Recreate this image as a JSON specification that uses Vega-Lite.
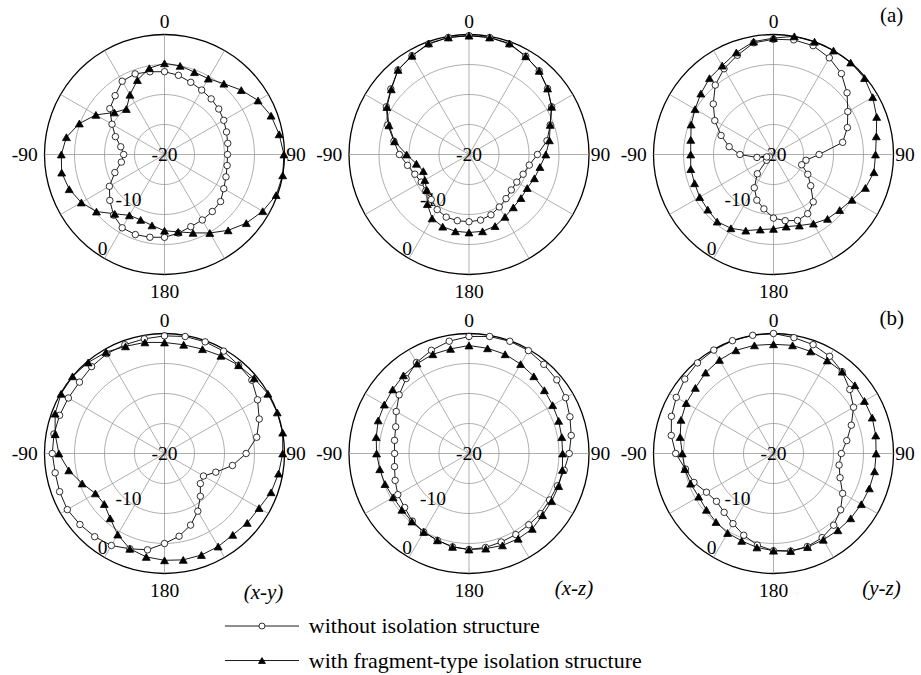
{
"$schema": "https://vega.github.io/schema/vega-lite/v6.json",
"padding": {"left": 11.5, "top": 4.5, "right": 5, "bottom": 3},
"background": "white",
"config": {"view": {"stroke": null}},
"datasets": {
"rings": [
{"r":5,"a":[0,10,20,30,40,50,60,70,80,90,100,110,120,130,140,150,160,170,180,190,200,210,220,230,240,250,260,270,280,290,300,310,320,330,340,350]},
{"r":10,"a":[0,10,20,30,40,50,60,70,80,90,100,110,120,130,140,150,160,170,180,190,200,210,220,230,240,250,260,270,280,290,300,310,320,330,340,350]},
{"r":15,"a":[0,10,20,30,40,50,60,70,80,90,100,110,120,130,140,150,160,170,180,190,200,210,220,230,240,250,260,270,280,290,300,310,320,330,340,350]},
{"r":20,"a":[0,10,20,30,40,50,60,70,80,90,100,110,120,130,140,150,160,170,180,190,200,210,220,230,240,250,260,270,280,290,300,310,320,330,340,350]}
],
"spokes": [{"a":0},{"a":30},{"a":60},{"a":90},{"a":120},{"a":150}],
"labels": [{"t":"0","a":0,"r":22},{"t":"90","a":90,"r":21.9},{"t":"180","a":180,"r":22.9},{"t":"-90","a":270,"r":23.3},{"t":"-20","a":0,"r":0},{"t":"-10","a":218.3,"r":9.7},{"t":"0","a":213.3,"r":18.8}],
"leg": [{"k":"o","t":"without isolation structure"},{"k":"t","t":"with fragment-type isolation structure"}],
"pat": [
{"a":0,"o1":-6.2,"t1":-4.8,"o2":-0.2,"t2":-0.2,"o3":-0.8,"t3":-0.6,"o4":-0.4,"t4":-1.5,"o5":-0.5,"t5":-2.0,"o6":0.0,"t6":-1.8},
{"a":10,"o1":-6.6,"t1":-5.0,"o2":-0.2,"t2":-0.2,"o3":-0.6,"t3":0.0,"o4":-0.2,"t4":-1.6,"o5":-0.2,"t5":-2.2,"o6":-0.4,"t6":-1.7},
{"a":20,"o1":-7.2,"t1":-5.4,"o2":-0.4,"t2":-0.3,"o3":-0.7,"t3":0.0,"o4":-0.2,"t4":-1.5,"o5":-0.1,"t5":-2.4,"o6":-0.7,"t6":-1.9},
{"a":30,"o1":-7.6,"t1":-5.4,"o2":-1.1,"t2":-1.1,"o3":-1.4,"t3":0.0,"o4":-0.3,"t4":-1.2,"o5":-0.2,"t5":-2.8,"o6":-1.3,"t6":-2.1},
{"a":40,"o1":-7.9,"t1":-4.6,"o2":-1.8,"t2":-1.8,"o3":-2.4,"t3":0.0,"o4":-0.8,"t4":-0.8,"o5":-0.6,"t5":-3.2,"o6":-2.2,"t6":-2.2},
{"a":50,"o1":-8.2,"t1":-3.3,"o2":-2.9,"t2":-2.9,"o3":-4.0,"t3":-0.2,"o4":-1.0,"t4":-0.5,"o5":-0.9,"t5":-3.6,"o6":-3.4,"t6":-2.3},
{"a":60,"o1":-8.6,"t1":-2.0,"o2":-4.1,"t2":-4.1,"o3":-5.7,"t3":-0.9,"o4":-2.1,"t4":-0.1,"o5":-1.4,"t5":-3.9,"o6":-4.6,"t6":-2.5},
{"a":70,"o1":-9.0,"t1":-1.1,"o2":-5.6,"t2":-5.6,"o3":-6.9,"t3":-1.7,"o4":-3.2,"t4":0.0,"o5":-2.1,"t5":-4.1,"o6":-6.2,"t6":-2.5},
{"a":80,"o1":-9.3,"t1":-0.6,"o2":-6.8,"t2":-6.4,"o3":-8.3,"t3":-2.6,"o4":-4.4,"t4":0.0,"o5":-2.7,"t5":-4.3,"o6":-7.6,"t6":-2.7},
{"a":90,"o1":-9.5,"t1":-0.1,"o2":-8.6,"t2":-7.2,"o3":-12.4,"t3":-3.0,"o4":-6.4,"t4":-0.3,"o5":-3.3,"t5":-4.4,"o6":-8.7,"t6":-2.9},
{"a":100,"o1":-9.4,"t1":0.0,"o2":-9.8,"t2":-8.0,"o3":-14.5,"t3":-3.0,"o4":-8.5,"t4":-0.7,"o5":-3.9,"t5":-4.2,"o6":-8.9,"t6":-2.9},
{"a":110,"o1":-9.1,"t1":-0.2,"o2":-10.4,"t2":-8.4,"o3":-15.0,"t3":-3.7,"o4":-10.9,"t4":-1.1,"o5":-4.3,"t5":-4.1,"o6":-8.2,"t6":-3.0},
{"a":120,"o1":-8.6,"t1":-1.1,"o2":-10.8,"t2":-8.8,"o3":-13.4,"t3":-4.9,"o4":-12.5,"t4":-1.8,"o5":-4.5,"t5":-4.1,"o6":-6.7,"t6":-3.1},
{"a":130,"o1":-7.8,"t1":-2.2,"o2":-10.8,"t2":-8.7,"o3":-11.9,"t3":-5.6,"o4":-12.2,"t4":-2.0,"o5":-4.4,"t5":-4.0,"o6":-5.4,"t6":-3.2},
{"a":140,"o1":-7.6,"t1":-3.5,"o2":-10.4,"t2":-8.5,"o3":-9.7,"t3":-6.0,"o4":-10.7,"t4":-2.3,"o5":-4.5,"t5":-3.6,"o6":-4.4,"t6":-3.3},
{"a":150,"o1":-7.4,"t1":-4.9,"o2":-9.9,"t2":-8.0,"o3":-8.6,"t3":-6.7,"o4":-8.9,"t4":-2.1,"o5":-4.4,"t5":-3.6,"o6":-3.8,"t6":-3.4},
{"a":160,"o1":-7.2,"t1":-6.1,"o2":-9.3,"t2":-7.3,"o3":-8.3,"t3":-7.4,"o4":-7.3,"t4":-2.0,"o5":-4.3,"t5":-3.7,"o6":-3.5,"t6":-3.4},
{"a":170,"o1":-6.7,"t1":-6.9,"o2":-8.9,"t2":-7.0,"o3":-8.8,"t3":-7.8,"o4":-6.0,"t4":-2.0,"o5":-4.1,"t5":-3.9,"o6":-3.5,"t6":-3.5},
{"a":180,"o1":-6.2,"t1":-7.3,"o2":-8.8,"t2":-7.0,"o3":-9.4,"t3":-7.6,"o4":-5.0,"t4":-2.2,"o5":-4.0,"t5":-4.0,"o6":-3.8,"t6":-3.8},
{"a":190,"o1":-6.0,"t1":-8.0,"o2":-8.8,"t2":-7.0,"o3":-10.8,"t3":-7.3,"o4":-3.7,"t4":-2.5,"o5":-4.2,"t5":-4.2,"o6":-4.5,"t6":-4.1},
{"a":200,"o1":-5.8,"t1":-8.4,"o2":-8.9,"t2":-7.2,"o3":-11.9,"t3":-6.5,"o4":-3.1,"t4":-3.1,"o5":-4.6,"t5":-4.6,"o6":-5.5,"t6":-4.5},
{"a":210,"o1":-5.9,"t1":-8.3,"o2":-9.4,"t2":-7.7,"o3":-13.6,"t3":-5.8,"o4":-2.3,"t4":-4.4,"o5":-4.9,"t5":-4.9,"o6":-6.5,"t6":-4.7},
{"a":220,"o1":-6.8,"t1":-7.1,"o2":-10.2,"t2":-9.2,"o3":-15.8,"t3":-5.4,"o4":-1.9,"t4":-5.9,"o5":-5.3,"t5":-5.2,"o6":-7.2,"t6":-5.1},
{"a":230,"o1":-8.1,"t1":-5.2,"o2":-10.6,"t2":-10.8,"o3":-18.5,"t3":-5.7,"o4":-1.6,"t4":-6.9,"o5":-6.0,"t5":-5.4,"o6":-7.6,"t6":-5.4},
{"a":240,"o1":-9.4,"t1":-4.0,"o2":-10.8,"t2":-11.5,"o3":-19.2,"t3":-5.8,"o4":-1.3,"t4":-6.7,"o5":-6.3,"t5":-5.4,"o6":-7.1,"t6":-5.6},
{"a":250,"o1":-11.2,"t1":-3.1,"o2":-10.4,"t2":-11.9,"o3":-18.8,"t3":-6.0,"o4":-1.4,"t4":-5.4,"o5":-6.9,"t5":-5.1,"o6":-5.9,"t6":-5.3},
{"a":260,"o1":-12.7,"t1":-2.6,"o2":-9.6,"t2":-11.1,"o3":-17.2,"t3":-6.0,"o4":-1.5,"t4":-3.8,"o5":-7.4,"t5":-4.9,"o6":-5.1,"t6":-5.0},
{"a":270,"o1":-13.2,"t1":-2.8,"o2":-8.4,"t2":-9.6,"o3":-14.4,"t3":-6.2,"o4":-1.3,"t4":-2.4,"o5":-7.6,"t5":-4.6,"o6":-3.7,"t6":-4.8},
{"a":280,"o1":-12.6,"t1":-3.4,"o2":-7.3,"t2":-7.4,"o3":-12.5,"t3":-6.0,"o4":-1.3,"t4":-1.5,"o5":-7.4,"t5":-4.3,"o6":-2.7,"t6":-4.2},
{"a":290,"o1":-11.3,"t1":-4.9,"o2":-5.6,"t2":-5.8,"o3":-10.7,"t3":-5.4,"o4":-1.4,"t4":-0.6,"o5":-7.0,"t5":-3.9,"o6":-1.9,"t6":-3.6},
{"a":300,"o1":-9.9,"t1":-6.8,"o2":-4.1,"t2":-4.2,"o3":-8.7,"t3":-4.9,"o4":-1.5,"t4":-0.1,"o5":-6.0,"t5":-3.7,"o6":-1.3,"t6":-3.2},
{"a":310,"o1":-8.1,"t1":-9.1,"o2":-3.0,"t2":-3.1,"o3":-6.9,"t3":-4.2,"o4":-1.5,"t4":0.0,"o5":-4.8,"t5":-3.4,"o6":-0.7,"t6":-3.0},
{"a":320,"o1":-7.2,"t1":-10.1,"o2":-1.6,"t2":-1.6,"o3":-4.9,"t3":-3.4,"o4":-1.1,"t4":-0.2,"o5":-3.7,"t5":-3.0,"o6":-0.3,"t6":-2.4},
{"a":330,"o1":-5.9,"t1":-8.5,"o2":-1.0,"t2":-1.0,"o3":-3.5,"t3":-2.9,"o4":-0.8,"t4":-0.5,"o5":-2.5,"t5":-2.7,"o6":-0.1,"t6":-2.0},
{"a":340,"o1":-5.7,"t1":-6.8,"o2":-0.4,"t2":-0.3,"o3":-2.4,"t3":-1.9,"o4":-0.7,"t4":-1.0,"o5":-1.7,"t5":-2.4,"o6":0.0,"t6":-1.7},
{"a":350,"o1":-6.0,"t1":-5.4,"o2":-0.2,"t2":-0.2,"o3":-1.1,"t3":-0.9,"o4":-0.6,"t4":-1.2,"o5":-1.0,"t5":-2.3,"o6":0.0,"t6":-1.7}
]
},
"columns": 3,
"spacing": {"row": 19, "column": 24.5},
"bounds": "flush",
"concat": [
{"width":280,"height":280,
 "layer":[
 {"encoding":{"x":{"field":"x","type":"quantitative","scale":{"domain":[-23.33,23.33]},"axis":null},"y":{"field":"y","type":"quantitative","scale":{"domain":[-23.33,23.33]},"axis":null}},
  "layer":[
  {"data":{"name":"rings"},"transform":[{"flatten":["a"]},{"calculate":"datum.r*sin(datum.a*PI/180)","as":"x"},{"calculate":"datum.r*cos(datum.a*PI/180)","as":"y"}],
   "mark":{"type":"line","interpolate":"cardinal-closed"},
   "encoding":{"detail":{"field":"r"},"order":{"field":"a","type":"quantitative"},
   "stroke":{"condition":{"test":"datum.r == 20","value":"black"},"value":"#8c8c8c"},
   "strokeWidth":{"condition":{"test":"datum.r == 20","value":1.3},"value":0.7}}},
  {"data":{"name":"spokes"},"transform":[{"calculate":"20*sin(datum.a*PI/180)","as":"x2"},{"calculate":"20*cos(datum.a*PI/180)","as":"y2"},{"calculate":"-datum.x2","as":"x"},{"calculate":"-datum.y2","as":"y"}],
   "mark":{"type":"rule","stroke":"#8c8c8c","strokeWidth":0.7},"encoding":{"x2":{"field":"x2"},"y2":{"field":"y2"}}},
  {"data":{"name":"labels"},"transform":[{"calculate":"datum.r*sin(datum.a*PI/180)","as":"x"},{"calculate":"datum.r*cos(datum.a*PI/180)","as":"y"}],
   "mark":{"type":"text","font":"Liberation Serif","fontSize":19.5,"color":"black","align":"center","baseline":"middle"},"encoding":{"text":{"field":"t"}}},
  {"data":{"name":"pat"},"transform":[{"fold":["o1","t1"],"as":["s","v"]},{"calculate":"substring(datum.s,0,1)","as":"k"},{"calculate":"(datum.v+20)*sin(datum.a*PI/180)","as":"x"},{"calculate":"(datum.v+20)*cos(datum.a*PI/180)","as":"y"}],
   "layer":[
    {"mark":{"type":"line","interpolate":"linear-closed","color":"black","strokeWidth":0.9},"encoding":{"detail":{"field":"k"},"order":{"field":"a","type":"quantitative"}}},
    {"transform":[{"filter":"datum.k == 'o'"}],"mark":{"type":"point","shape":"circle","filled":true,"fill":"white","stroke":"black","strokeWidth":0.8,"size":42,"opacity":1}},
    {"transform":[{"filter":"datum.k == 't'"}],"mark":{"type":"point","shape":"triangle-up","filled":true,"fill":"black","stroke":"black","strokeWidth":0.8,"size":62,"opacity":1}}
   ]}
  ]}
 ]},
{"width":280,"height":280,
 "layer":[
 {"encoding":{"x":{"field":"x","type":"quantitative","scale":{"domain":[-23.33,23.33]},"axis":null},"y":{"field":"y","type":"quantitative","scale":{"domain":[-23.33,23.33]},"axis":null}},
  "layer":[
  {"data":{"name":"rings"},"transform":[{"flatten":["a"]},{"calculate":"datum.r*sin(datum.a*PI/180)","as":"x"},{"calculate":"datum.r*cos(datum.a*PI/180)","as":"y"}],
   "mark":{"type":"line","interpolate":"cardinal-closed"},
   "encoding":{"detail":{"field":"r"},"order":{"field":"a","type":"quantitative"},
   "stroke":{"condition":{"test":"datum.r == 20","value":"black"},"value":"#8c8c8c"},
   "strokeWidth":{"condition":{"test":"datum.r == 20","value":1.3},"value":0.7}}},
  {"data":{"name":"spokes"},"transform":[{"calculate":"20*sin(datum.a*PI/180)","as":"x2"},{"calculate":"20*cos(datum.a*PI/180)","as":"y2"},{"calculate":"-datum.x2","as":"x"},{"calculate":"-datum.y2","as":"y"}],
   "mark":{"type":"rule","stroke":"#8c8c8c","strokeWidth":0.7},"encoding":{"x2":{"field":"x2"},"y2":{"field":"y2"}}},
  {"data":{"name":"labels"},"transform":[{"calculate":"datum.r*sin(datum.a*PI/180)","as":"x"},{"calculate":"datum.r*cos(datum.a*PI/180)","as":"y"}],
   "mark":{"type":"text","font":"Liberation Serif","fontSize":19.5,"color":"black","align":"center","baseline":"middle"},"encoding":{"text":{"field":"t"}}},
  {"data":{"name":"pat"},"transform":[{"fold":["o2","t2"],"as":["s","v"]},{"calculate":"substring(datum.s,0,1)","as":"k"},{"calculate":"(datum.v+20)*sin(datum.a*PI/180)","as":"x"},{"calculate":"(datum.v+20)*cos(datum.a*PI/180)","as":"y"}],
   "layer":[
    {"mark":{"type":"line","interpolate":"linear-closed","color":"black","strokeWidth":0.9},"encoding":{"detail":{"field":"k"},"order":{"field":"a","type":"quantitative"}}},
    {"transform":[{"filter":"datum.k == 'o'"}],"mark":{"type":"point","shape":"circle","filled":true,"fill":"white","stroke":"black","strokeWidth":0.8,"size":42,"opacity":1}},
    {"transform":[{"filter":"datum.k == 't'"}],"mark":{"type":"point","shape":"triangle-up","filled":true,"fill":"black","stroke":"black","strokeWidth":0.8,"size":62,"opacity":1}}
   ]}
  ]}
 ]},
{"width":280,"height":280,
 "layer":[
 {"encoding":{"x":{"field":"x","type":"quantitative","scale":{"domain":[-23.33,23.33]},"axis":null},"y":{"field":"y","type":"quantitative","scale":{"domain":[-23.33,23.33]},"axis":null}},
  "layer":[
  {"data":{"name":"rings"},"transform":[{"flatten":["a"]},{"calculate":"datum.r*sin(datum.a*PI/180)","as":"x"},{"calculate":"datum.r*cos(datum.a*PI/180)","as":"y"}],
   "mark":{"type":"line","interpolate":"cardinal-closed"},
   "encoding":{"detail":{"field":"r"},"order":{"field":"a","type":"quantitative"},
   "stroke":{"condition":{"test":"datum.r == 20","value":"black"},"value":"#8c8c8c"},
   "strokeWidth":{"condition":{"test":"datum.r == 20","value":1.3},"value":0.7}}},
  {"data":{"name":"spokes"},"transform":[{"calculate":"20*sin(datum.a*PI/180)","as":"x2"},{"calculate":"20*cos(datum.a*PI/180)","as":"y2"},{"calculate":"-datum.x2","as":"x"},{"calculate":"-datum.y2","as":"y"}],
   "mark":{"type":"rule","stroke":"#8c8c8c","strokeWidth":0.7},"encoding":{"x2":{"field":"x2"},"y2":{"field":"y2"}}},
  {"data":{"name":"labels"},"transform":[{"calculate":"datum.r*sin(datum.a*PI/180)","as":"x"},{"calculate":"datum.r*cos(datum.a*PI/180)","as":"y"}],
   "mark":{"type":"text","font":"Liberation Serif","fontSize":19.5,"color":"black","align":"center","baseline":"middle"},"encoding":{"text":{"field":"t"}}},
  {"data":{"name":"pat"},"transform":[{"fold":["o3","t3"],"as":["s","v"]},{"calculate":"substring(datum.s,0,1)","as":"k"},{"calculate":"(datum.v+20)*sin(datum.a*PI/180)","as":"x"},{"calculate":"(datum.v+20)*cos(datum.a*PI/180)","as":"y"}],
   "layer":[
    {"mark":{"type":"line","interpolate":"linear-closed","color":"black","strokeWidth":0.9},"encoding":{"detail":{"field":"k"},"order":{"field":"a","type":"quantitative"}}},
    {"transform":[{"filter":"datum.k == 'o'"}],"mark":{"type":"point","shape":"circle","filled":true,"fill":"white","stroke":"black","strokeWidth":0.8,"size":42,"opacity":1}},
    {"transform":[{"filter":"datum.k == 't'"}],"mark":{"type":"point","shape":"triangle-up","filled":true,"fill":"black","stroke":"black","strokeWidth":0.8,"size":62,"opacity":1}}
   ]}
  ]},
 {"data":{"values":[{"t":"(a)"}]},"mark":{"type":"text","font":"Liberation Serif","fontSize":21,"color":"black","align":"center","baseline":"middle"},
  "encoding":{"x":{"datum":19.7,"type":"quantitative","scale":{"domain":[-23.33,23.33]},"axis":null},"y":{"datum":23.1,"type":"quantitative","scale":{"domain":[-23.33,23.33]},"axis":null},"text":{"field":"t"}}}
 ]},
{"width":280,"height":280,
 "layer":[
 {"encoding":{"x":{"field":"x","type":"quantitative","scale":{"domain":[-23.33,23.33]},"axis":null},"y":{"field":"y","type":"quantitative","scale":{"domain":[-23.33,23.33]},"axis":null}},
  "layer":[
  {"data":{"name":"rings"},"transform":[{"flatten":["a"]},{"calculate":"datum.r*sin(datum.a*PI/180)","as":"x"},{"calculate":"datum.r*cos(datum.a*PI/180)","as":"y"}],
   "mark":{"type":"line","interpolate":"cardinal-closed"},
   "encoding":{"detail":{"field":"r"},"order":{"field":"a","type":"quantitative"},
   "stroke":{"condition":{"test":"datum.r == 20","value":"black"},"value":"#8c8c8c"},
   "strokeWidth":{"condition":{"test":"datum.r == 20","value":1.3},"value":0.7}}},
  {"data":{"name":"spokes"},"transform":[{"calculate":"20*sin(datum.a*PI/180)","as":"x2"},{"calculate":"20*cos(datum.a*PI/180)","as":"y2"},{"calculate":"-datum.x2","as":"x"},{"calculate":"-datum.y2","as":"y"}],
   "mark":{"type":"rule","stroke":"#8c8c8c","strokeWidth":0.7},"encoding":{"x2":{"field":"x2"},"y2":{"field":"y2"}}},
  {"data":{"name":"labels"},"transform":[{"calculate":"datum.r*sin(datum.a*PI/180)","as":"x"},{"calculate":"datum.r*cos(datum.a*PI/180)","as":"y"}],
   "mark":{"type":"text","font":"Liberation Serif","fontSize":19.5,"color":"black","align":"center","baseline":"middle"},"encoding":{"text":{"field":"t"}}},
  {"data":{"name":"pat"},"transform":[{"fold":["o4","t4"],"as":["s","v"]},{"calculate":"substring(datum.s,0,1)","as":"k"},{"calculate":"(datum.v+20)*sin(datum.a*PI/180)","as":"x"},{"calculate":"(datum.v+20)*cos(datum.a*PI/180)","as":"y"}],
   "layer":[
    {"mark":{"type":"line","interpolate":"linear-closed","color":"black","strokeWidth":0.9},"encoding":{"detail":{"field":"k"},"order":{"field":"a","type":"quantitative"}}},
    {"transform":[{"filter":"datum.k == 'o'"}],"mark":{"type":"point","shape":"circle","filled":true,"fill":"white","stroke":"black","strokeWidth":0.8,"size":42,"opacity":1}},
    {"transform":[{"filter":"datum.k == 't'"}],"mark":{"type":"point","shape":"triangle-up","filled":true,"fill":"black","stroke":"black","strokeWidth":0.8,"size":62,"opacity":1}}
   ]}
  ]},
 {"data":{"values":[{"t":"(x-y)"}]},"mark":{"type":"text","font":"Liberation Serif","fontSize":21,"fontStyle":"italic","color":"black","align":"center","baseline":"middle"},
  "encoding":{"x":{"datum":16.5,"type":"quantitative","scale":{"domain":[-23.33,23.33]},"axis":null},"y":{"datum":-23.25,"type":"quantitative","scale":{"domain":[-23.33,23.33]},"axis":null},"text":{"field":"t"}}}
 ]},
{"width":280,"height":280,
 "layer":[
 {"encoding":{"x":{"field":"x","type":"quantitative","scale":{"domain":[-23.33,23.33]},"axis":null},"y":{"field":"y","type":"quantitative","scale":{"domain":[-23.33,23.33]},"axis":null}},
  "layer":[
  {"data":{"name":"rings"},"transform":[{"flatten":["a"]},{"calculate":"datum.r*sin(datum.a*PI/180)","as":"x"},{"calculate":"datum.r*cos(datum.a*PI/180)","as":"y"}],
   "mark":{"type":"line","interpolate":"cardinal-closed"},
   "encoding":{"detail":{"field":"r"},"order":{"field":"a","type":"quantitative"},
   "stroke":{"condition":{"test":"datum.r == 20","value":"black"},"value":"#8c8c8c"},
   "strokeWidth":{"condition":{"test":"datum.r == 20","value":1.3},"value":0.7}}},
  {"data":{"name":"spokes"},"transform":[{"calculate":"20*sin(datum.a*PI/180)","as":"x2"},{"calculate":"20*cos(datum.a*PI/180)","as":"y2"},{"calculate":"-datum.x2","as":"x"},{"calculate":"-datum.y2","as":"y"}],
   "mark":{"type":"rule","stroke":"#8c8c8c","strokeWidth":0.7},"encoding":{"x2":{"field":"x2"},"y2":{"field":"y2"}}},
  {"data":{"name":"labels"},"transform":[{"calculate":"datum.r*sin(datum.a*PI/180)","as":"x"},{"calculate":"datum.r*cos(datum.a*PI/180)","as":"y"}],
   "mark":{"type":"text","font":"Liberation Serif","fontSize":19.5,"color":"black","align":"center","baseline":"middle"},"encoding":{"text":{"field":"t"}}},
  {"data":{"name":"pat"},"transform":[{"fold":["o5","t5"],"as":["s","v"]},{"calculate":"substring(datum.s,0,1)","as":"k"},{"calculate":"(datum.v+20)*sin(datum.a*PI/180)","as":"x"},{"calculate":"(datum.v+20)*cos(datum.a*PI/180)","as":"y"}],
   "layer":[
    {"mark":{"type":"line","interpolate":"linear-closed","color":"black","strokeWidth":0.9},"encoding":{"detail":{"field":"k"},"order":{"field":"a","type":"quantitative"}}},
    {"transform":[{"filter":"datum.k == 'o'"}],"mark":{"type":"point","shape":"circle","filled":true,"fill":"white","stroke":"black","strokeWidth":0.8,"size":42,"opacity":1}},
    {"transform":[{"filter":"datum.k == 't'"}],"mark":{"type":"point","shape":"triangle-up","filled":true,"fill":"black","stroke":"black","strokeWidth":0.8,"size":62,"opacity":1}}
   ]}
  ]},
 {"data":{"values":[{"t":"(x-z)"}]},"mark":{"type":"text","font":"Liberation Serif","fontSize":21,"fontStyle":"italic","color":"black","align":"center","baseline":"middle"},
  "encoding":{"x":{"datum":17.5,"type":"quantitative","scale":{"domain":[-23.33,23.33]},"axis":null},"y":{"datum":-22.6,"type":"quantitative","scale":{"domain":[-23.33,23.33]},"axis":null},"text":{"field":"t"}}},
 {"data":{"name":"leg"},"transform":[{"filter":"datum.k == 'o'"}],
  "encoding":{"y":{"datum":-28.75,"type":"quantitative","scale":{"domain":[-23.33,23.33]},"axis":null}},
  "layer":[
   {"mark":{"type":"rule","color":"black","strokeWidth":0.9},"encoding":{"x":{"datum":-40.67,"type":"quantitative","scale":{"domain":[-23.33,23.33]},"axis":null},"x2":{"datum":-28.33}}},
   {"mark":{"type":"point","shape":"circle","filled":true,"fill":"white","stroke":"black","strokeWidth":0.8,"size":36,"opacity":1},"encoding":{"x":{"datum":-34.5,"type":"quantitative","scale":{"domain":[-23.33,23.33]},"axis":null}}},
   {"mark":{"type":"text","font":"Liberation Serif","fontSize":22,"color":"black","align":"left","baseline":"middle"},"encoding":{"x":{"datum":-26.7,"type":"quantitative","scale":{"domain":[-23.33,23.33]},"axis":null},"text":{"field":"t"}}}
  ]},
 {"data":{"name":"leg"},"transform":[{"filter":"datum.k == 't'"}],
  "encoding":{"y":{"datum":-34.5,"type":"quantitative","scale":{"domain":[-23.33,23.33]},"axis":null}},
  "layer":[
   {"mark":{"type":"rule","color":"black","strokeWidth":0.9},"encoding":{"x":{"datum":-40.67,"type":"quantitative","scale":{"domain":[-23.33,23.33]},"axis":null},"x2":{"datum":-28.33}}},
   {"mark":{"type":"point","shape":"triangle-up","filled":true,"fill":"black","stroke":"black","strokeWidth":0.8,"size":48,"opacity":1},"encoding":{"x":{"datum":-34.5,"type":"quantitative","scale":{"domain":[-23.33,23.33]},"axis":null}}},
   {"mark":{"type":"text","font":"Liberation Serif","fontSize":22,"color":"black","align":"left","baseline":"middle"},"encoding":{"x":{"datum":-26.7,"type":"quantitative","scale":{"domain":[-23.33,23.33]},"axis":null},"text":{"field":"t"}}}
  ]}
 ]},
{"width":280,"height":280,
 "layer":[
 {"encoding":{"x":{"field":"x","type":"quantitative","scale":{"domain":[-23.33,23.33]},"axis":null},"y":{"field":"y","type":"quantitative","scale":{"domain":[-23.33,23.33]},"axis":null}},
  "layer":[
  {"data":{"name":"rings"},"transform":[{"flatten":["a"]},{"calculate":"datum.r*sin(datum.a*PI/180)","as":"x"},{"calculate":"datum.r*cos(datum.a*PI/180)","as":"y"}],
   "mark":{"type":"line","interpolate":"cardinal-closed"},
   "encoding":{"detail":{"field":"r"},"order":{"field":"a","type":"quantitative"},
   "stroke":{"condition":{"test":"datum.r == 20","value":"black"},"value":"#8c8c8c"},
   "strokeWidth":{"condition":{"test":"datum.r == 20","value":1.3},"value":0.7}}},
  {"data":{"name":"spokes"},"transform":[{"calculate":"20*sin(datum.a*PI/180)","as":"x2"},{"calculate":"20*cos(datum.a*PI/180)","as":"y2"},{"calculate":"-datum.x2","as":"x"},{"calculate":"-datum.y2","as":"y"}],
   "mark":{"type":"rule","stroke":"#8c8c8c","strokeWidth":0.7},"encoding":{"x2":{"field":"x2"},"y2":{"field":"y2"}}},
  {"data":{"name":"labels"},"transform":[{"calculate":"datum.r*sin(datum.a*PI/180)","as":"x"},{"calculate":"datum.r*cos(datum.a*PI/180)","as":"y"}],
   "mark":{"type":"text","font":"Liberation Serif","fontSize":19.5,"color":"black","align":"center","baseline":"middle"},"encoding":{"text":{"field":"t"}}},
  {"data":{"name":"pat"},"transform":[{"fold":["o6","t6"],"as":["s","v"]},{"calculate":"substring(datum.s,0,1)","as":"k"},{"calculate":"(datum.v+20)*sin(datum.a*PI/180)","as":"x"},{"calculate":"(datum.v+20)*cos(datum.a*PI/180)","as":"y"}],
   "layer":[
    {"mark":{"type":"line","interpolate":"linear-closed","color":"black","strokeWidth":0.9},"encoding":{"detail":{"field":"k"},"order":{"field":"a","type":"quantitative"}}},
    {"transform":[{"filter":"datum.k == 'o'"}],"mark":{"type":"point","shape":"circle","filled":true,"fill":"white","stroke":"black","strokeWidth":0.8,"size":42,"opacity":1}},
    {"transform":[{"filter":"datum.k == 't'"}],"mark":{"type":"point","shape":"triangle-up","filled":true,"fill":"black","stroke":"black","strokeWidth":0.8,"size":62,"opacity":1}}
   ]}
  ]},
 {"data":{"values":[{"t":"(b)"}]},"mark":{"type":"text","font":"Liberation Serif","fontSize":21,"color":"black","align":"center","baseline":"middle"},
  "encoding":{"x":{"datum":19.7,"type":"quantitative","scale":{"domain":[-23.33,23.33]},"axis":null},"y":{"datum":22.4,"type":"quantitative","scale":{"domain":[-23.33,23.33]},"axis":null},"text":{"field":"t"}}},
 {"data":{"values":[{"t":"(y-z)"}]},"mark":{"type":"text","font":"Liberation Serif","fontSize":21,"fontStyle":"italic","color":"black","align":"center","baseline":"middle"},
  "encoding":{"x":{"datum":18,"type":"quantitative","scale":{"domain":[-23.33,23.33]},"axis":null},"y":{"datum":-22.6,"type":"quantitative","scale":{"domain":[-23.33,23.33]},"axis":null},"text":{"field":"t"}}}
 ]}
]
}
